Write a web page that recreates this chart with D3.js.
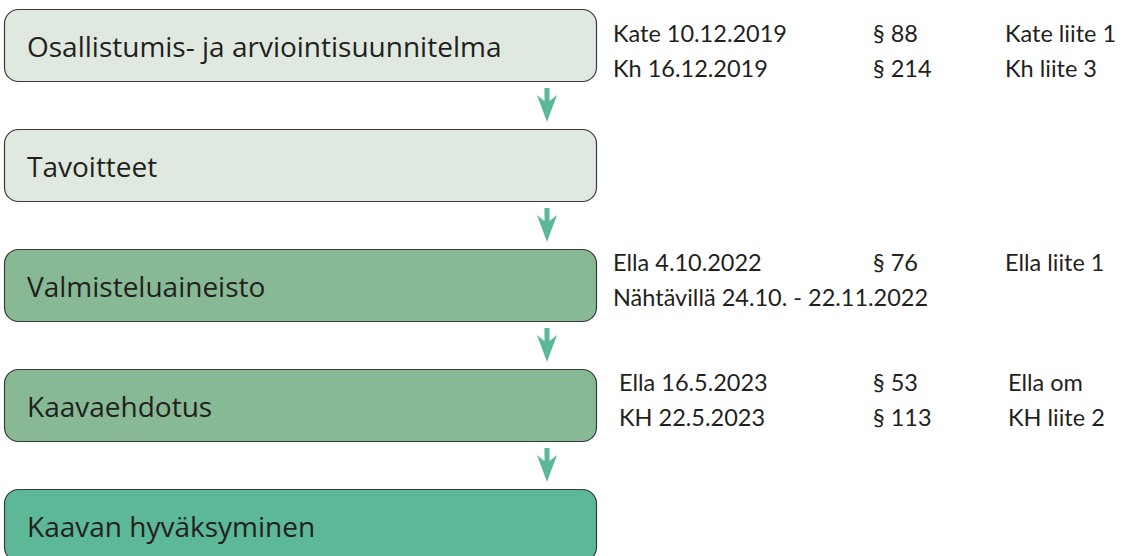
<!DOCTYPE html>
<html lang="fi">
<head>
<meta charset="UTF-8">
<title>Kaavaprosessi</title>
<script src="https://cdn.jsdelivr.net/npm/d3@7"></script>
<style>
  body { margin: 0; background: #fff; }
  svg { display: block; }
</style>
</head>
<body>
<svg width="1137" height="556"></svg>
<script>
// vaiheet ylhäältä alas
var steps = ['Osallistumis- ja arviointisuunnitelma', 'Tavoitteet', 'Valmisteluaineisto', 'Kaavaehdotus', 'Kaavan hyväksyminen'];
var stepFills = ['#dfe9df', '#dfe9df', '#87b995', '#87b995', '#5cb896'];

// päätösrivit: vaihe, rivi, pvm, pykälä, liite
var noteStep = [0, 0, 2, 2, 3, 3];
var noteRow = [0, 1, 0, 1, 0, 1];
var noteDate = ['Kate 10.12.2019', 'Kh 16.12.2019', 'Ella 4.10.2022', 'Nähtävillä 24.10. - 22.11.2022', 'Ella 16.5.2023', 'KH 22.5.2023'];
var noteSection = ['§ 88', '§ 214', '§ 76', '', '§ 53', '§ 113'];
var noteAttachment = ['Kate liite 1', 'Kh liite 3', 'Ella liite 1', '', 'Ella om', 'KH liite 2'];

var svg = d3.select('svg');

var boxH = 72;
var y = d3.scaleLinear().domain([0, 1]).range([9, 129]); // vaiheen yläreuna
var boxX = 4.5, boxW = 592;

var g = svg.selectAll('g.step')
    .data(steps)
    .enter()
    .append('g')
    .attr('class', 'step')
    .attr('transform', function (d, i) { return 'translate(' + boxX + ',' + (y(i) + 0.5) + ')' });

g.append('rect')
    .attr('width', boxW)
    .attr('height', boxH)
    .attr('rx', 14)
    .attr('ry', 14)
    .attr('fill', function (d, i) { return stepFills[i] })
    .attr('stroke', '#3b3b3b')
    .attr('stroke-width', 1.2);

g.append('text')
    .attr('x', 22.5)
    .attr('y', 47)
    .attr('font-family', 'Open Sans')
    .attr('font-size', 28)
    .attr('fill', '#231f20')
    .text(function (d) { return d });

// nuolet vaiheiden väliin
var arrows = d3.range(steps.length - 1);
var ax = 547;
svg.selectAll('path.arrow')
    .data(arrows)
    .enter()
    .append('path')
    .attr('class', 'arrow')
    .attr('fill', '#5cb896')
    .attr('d', function (i) {
        var t = y(i) + boxH + 7;
        return 'M' + (ax - 2.5) + ',' + t + 'L' + (ax + 2.5) + ',' + t + 'L' + (ax + 2.5) + ',' + (t + 13)
            + 'L' + (ax + 10) + ',' + (t + 7) + 'L' + ax + ',' + (t + 34) + 'L' + (ax - 10) + ',' + (t + 7)
            + 'L' + (ax - 2.5) + ',' + (t + 13) + 'Z';
    });

// päätöstekstit
var colX = [613, 873, 1005];
var colShift = [0, 0, 0, 0, 6, 6];
var blockTop = { 0: 33, 2: 21.5, 3: 22 }; // ensimmäisen rivin perusviiva laatikon yläreunasta
var cols = [noteDate, noteSection, noteAttachment];
cols.forEach(function (arr, c) {
    svg.selectAll('text.col' + c)
        .data(arr)
        .enter()
        .append('text')
        .attr('class', 'col' + c)
        .attr('x', function (d, i) { return colX[c] + (c === 1 ? 0 : colShift[i] * (c === 2 ? 0.5 : 1)) })
        .attr('y', function (d, i) { return y(noteStep[i]) + blockTop[noteStep[i]] + noteRow[i] * 35 })
        .attr('font-family', 'Lato')
        .attr('font-size', 23.5)
        .attr('fill', '#231f20')
        .text(function (d) { return d });
});
</script>
</body>
</html>
